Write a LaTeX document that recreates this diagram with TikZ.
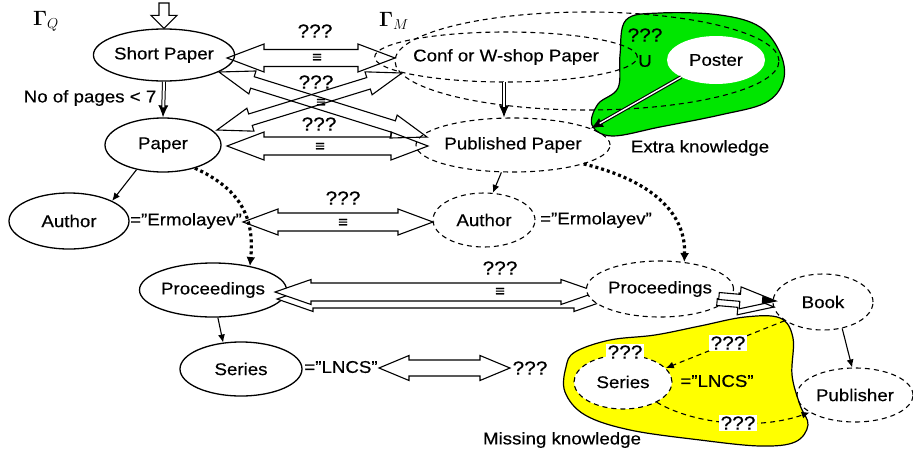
\documentclass[tikz,border=0pt]{standalone}
\usepackage[no-math]{fontspec}
\setmainfont[FakeStretch=1.1,FakeBold=0.4]{Liberation Sans}
\usetikzlibrary{shapes.geometric,calc,arrows.meta}
\definecolor{blobgreen}{RGB}{0,230,0}
\definecolor{blobyellow}{RGB}{255,255,0}
\newcommand\lblfont{\fontsize{17}{19}\selectfont}
\newcommand\qmfont{\fontsize{19}{21}\selectfont}
\newcommand\eqfont{\fontsize{15}{15}\selectfont}
% double-headed hollow block arrow: [opts]{A}{B}{shaft half}{head half}{head length}
\newcommand\dblblk[6][]{%
 \path[blk,#1] (#2) -- ($(#2)!#6!(#3)!#5!90:(#3)$) -- ($(#2)!#6!(#3)!#4!90:(#3)$)
  -- ($(#3)!#6!(#2)!#4!-90:(#2)$) -- ($(#3)!#6!(#2)!#5!-90:(#2)$) -- (#3)
  -- ($(#3)!#6!(#2)!#5!90:(#2)$) -- ($(#3)!#6!(#2)!#4!90:(#2)$)
  -- ($(#2)!#6!(#3)!#4!-90:(#3)$) -- ($(#2)!#6!(#3)!#5!-90:(#3)$) -- cycle;}
% single-headed hollow block arrow
\newcommand\sglblk[6][]{%
 \path[blk,#1] ($(#2)!#4!90:(#3)$) -- ($(#3)!#6!(#2)!#4!-90:(#2)$) -- ($(#3)!#6!(#2)!#5!-90:(#2)$)
  -- (#3) -- ($(#3)!#6!(#2)!#5!90:(#2)$) -- ($(#3)!#6!(#2)!#4!90:(#2)$) -- ($(#2)!#4!-90:(#3)$) -- cycle;}
\tikzset{
 blk/.style={draw, line width=1.1pt, line join=miter},
 qn/.style={ellipse, draw, line width=1.3pt, inner sep=0pt, font=\lblfont},
 dsh/.style={line width=1.1pt, dash pattern=on 5pt off 4pt},
 mn/.style={ellipse, draw, dsh, inner sep=0pt, font=\lblfont},
 txt/.style={inner sep=0pt, font=\lblfont},
 qm/.style={inner sep=0pt, font=\qmfont},
 qmbox/.style={fill=white, inner sep=1.5pt, font=\qmfont},
 eqv/.style={inner sep=0pt, font=\eqfont},
 thin/.style={line width=1.1pt, -{Latex[length=8pt,width=7pt]}},
 dotarrow/.style={line width=3.2pt, dash pattern=on 3pt off 3pt, -{Latex[length=9pt,width=9pt]}},
 dasharrow/.style={dsh, -{Latex[length=8pt,width=7pt]}},
 dbltip/.style={line width=1pt, -{Latex[length=12pt,width=10pt]}},
 dblline/.style={line width=1pt, double=white, double distance=2pt},
 dblgreen/.style={line width=1.1pt, double=white, double distance=1.4pt},
}
\begin{document}
\begin{tikzpicture}[x=1pt,y=-1pt]
\useasboundingbox (0,0) rectangle (913,453);

% ---- Extra knowledge (green) ----
\draw[line width=1.2pt, fill=blobgreen] plot[smooth cycle, tension=0.6] coordinates {
 (626,20) (660,13) (720,15) (760,27) (781,55) (783,82) (765,103) (720,115)
 (660,127) (612,136) (592,125) (598,104) (618,88) (620,55)};
\node[ellipse, fill=white, inner sep=0pt, minimum width=98pt, minimum height=48pt, font=\lblfont] (po) at (716,60) {Poster};
\draw[dsh] (587,61) ellipse [x radius=192pt, y radius=49pt];
\node[qm] (gqm) at (645,35) {???};
\node[txt] (gu) at (645,61) {U};
\node[txt] (extra) at (700,148) {Extra knowledge};

% ---- Missing knowledge (yellow) ----
\draw[line width=1.2pt, fill=blobyellow] plot[smooth cycle, tension=0.6] coordinates {
 (575,352) (610,340) (655,335) (700,326) (745,317) (780,318) (793,338) (792,375)
 (800,405) (808,425) (795,442) (760,446) (700,440) (630,430) (585,415) (565,392) (566,367)};
\node[mn, fill=white, minimum width=98pt, minimum height=54pt] (sm) at (623,382) {Series};
\node[txt] (sml) at (717,381) {="LNCS”};
\node[txt] (missing) at (562,440) {Missing knowledge};

% ---- Titles ----
\node[inner sep=0pt, font=\fontsize{22}{24}\selectfont] (gq) at (46,21) {$\mathbf{\Gamma}_{Q}$};
\node[inner sep=0pt, font=\fontsize{22}{24}\selectfont] (gm) at (394,21) {$\mathbf{\Gamma}_{M}$};

% ---- Query side ----
\node[qn, minimum width=122pt, minimum height=52pt] (sp) at (164,55) {Short Paper};
\node[qn, minimum width=116pt, minimum height=54pt] (pa) at (163,145) {Paper};
\node[qn, minimum width=120pt, minimum height=56pt] (au) at (69,221) {Author};
\node[qn, minimum width=122pt, minimum height=54pt] (pr) at (213,290) {Proceedings};
\node[qn, minimum width=122pt, minimum height=54pt] (se) at (241,369) {Series};
\node[txt] (npg) at (90,98) {No of pages < 7};
\node[txt] (aul) at (186,221) {="Ermolayev”};
\node[txt] (sel) at (341,367) {="LNCS”};

% ---- Model side ----
\node[mn, minimum width=218pt, minimum height=50pt] (cw) at (506,57) {Conf or W-shop Paper};
\node[mn, minimum width=170pt, minimum height=54pt] (pp) at (513,145) {Published Paper};
\node[mn, minimum width=102pt, minimum height=54pt] (am) at (484,220) {Author};
\node[txt] (aml) at (596,220) {="Ermolayev”};
\node[mn, minimum width=100pt, minimum height=56pt] (bk) at (823,302) {Book};
\node[mn, minimum width=116pt, minimum height=54pt] (pb) at (855,395) {Publisher};

% ---- input arrow ----
\coordinate (inp) at (164,3);
\sglblk[fill=white]{inp}{sp.north}{5pt}{13pt}{13pt}

% ---- double-line arrows ----
\draw[dbltip] (sp.south) -- (pa.north);
\draw[dblline, shorten >=10pt] (sp.south) -- (pa.north);
\coordinate (cws) at (504,82);
\draw[dbltip] (cws) -- (cws |- pp.north);
\draw[dblline, shorten >=10pt] (cws) -- (cws |- pp.north);
\draw[dbltip] (po.206) -- (pp.12);
\draw[dblgreen, shorten >=10pt] (po.206) -- (pp.12);

% ---- block arrows between models ----
\coordinate (c1) at (219,72); \coordinate (c2) at (427,137);
\dblblk{c1}{c2}{6pt}{12pt}{35pt}
\coordinate (d1) at (217,130); \coordinate (d2) at (402,73);
\dblblk{d1}{d2}{6pt}{12pt}{35pt}
\coordinate (a1) at (227,58); \coordinate (a2) at (395,58);
\dblblk{a1}{a2}{8.5pt}{14pt}{37pt}
\coordinate (b1) at (227,146); \coordinate (b2) at (428,146);
\dblblk{b1}{b2}{9pt}{14pt}{37pt}
\coordinate (e1) at (243,222); \coordinate (e2) at (433,222);
\dblblk{e1}{e2}{9pt}{13pt}{35pt}
\coordinate (f1s) at (277,299); \coordinate (f2s) at (610,299);
\dblblk[fill=white]{f1s}{f2s}{9pt}{12.5pt}{36pt}
\coordinate (f1) at (275,292); \coordinate (f2) at (597,292);
\dblblk[fill=white]{f1}{f2}{9pt}{12.5pt}{36pt}
\coordinate (g1) at (379,368); \coordinate (g2) at (510,368);
\dblblk{g1}{g2}{8pt}{12.5pt}{30pt}

\node[mn, fill=white, minimum width=120pt, minimum height=56pt] (pm) at (660,289) {Proceedings};

\coordinate (h1s) at (717,302); \coordinate (h2s) at (774,307);
\sglblk[fill=white]{h1s}{h2s}{3.5pt}{11pt}{36pt}
\coordinate (h1) at (719,296); \coordinate (h2) at (776,301);
\sglblk[fill=white]{h1}{h2}{3.5pt}{11pt}{36pt}
\fill ($(h2)!14pt!(h1)!4pt!90:(h1)$) -- (h2) -- ($(h2)!14pt!(h1)!4pt!-90:(h1)$) -- cycle;

% ---- labels on block arrows ----
\node[qm] (q1) at (315,31) {???};
\node[eqv] (e01) at (317,58) {≡};
\node[qm] (q2) at (316,82) {???};
\node[eqv] (e02) at (321,103) {≡};
\node[qm] (q3) at (319,124) {???};
\node[eqv] (e03) at (320,147) {≡};
\node[qm] (q4) at (343,198) {???};
\node[eqv] (e04) at (343,223) {≡};
\node[qm] (q5) at (500,268) {???};
\node[eqv] (e05) at (500,292) {≡};
\node[qm] (q6) at (530,368) {???};

% ---- thin arrows ----
\draw[thin] (pa.223) -- (au.25);
\draw[thin] (pr.-80) -- (se.124);
\draw[thin] (pp.247) -- (am.72);
\draw[thin] (bk.-54) -- (pb.96);

% ---- dotted arrows ----
\draw[dotarrow] (pa.-36) .. controls (238,188) and (255,215) .. (pr.33);
\draw[dotarrow] (pp.-15) .. controls (650,180) and (686,212) .. (pm.48);

% ---- dashed arrows in missing knowledge ----
\draw[dasharrow] (bk.206) -- (sm.18);
\draw[dasharrow] (sm.-31) .. controls (695,425) and (760,430) .. (pb.201);
\node[qmbox] (y1) at (625,352) {???};
\node[qmbox] (y2) at (728,343) {???};
\node[qmbox] (y3) at (738,423) {???};
\end{tikzpicture}
\end{document}
